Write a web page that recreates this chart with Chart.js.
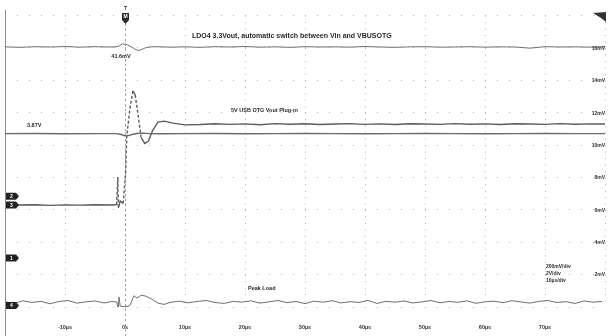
<!DOCTYPE html>
<html>
<head>
<meta charset="utf-8">
<script src="https://cdn.jsdelivr.net/npm/chart.js@4.4.1/dist/chart.umd.min.js"></script>
<style>
  html, body { margin: 0; padding: 0; background: #ffffff; }
  #wrap { width: 608px; height: 336px; }
</style>
</head>
<body>
<div id="wrap"><canvas id="scope" width="608" height="336"></canvas></div>
<script>
// Time axis labels (10 µs per division, trigger at 0 s)
const timeLabels = ['-10µs', '0s', '10µs', '20µs', '30µs', '40µs', '50µs', '60µs', '70µs'];

// Graticule labels along the right edge, bottom row first
const rightLabels = ['', '2mV', '4mV', '6mV', '8mV', '10mV', '12mV', '14mV', '16mV', ''];

// Readout block
const readout = ['200mV/div', '2V/div', '10µs/div'];

// CH1: LDO4 3.3V output, AC ripple [time µs, mV]
const ch1 = [
  [-20, 1], [-17.5, -2], [-15, 2], [-12.5, 0], [-10, 3], [-7.5, -1], [-5, 2], [-3, 0],
  [-1.5, 1], [-1, 6], [-0.4, 20], [0.3, 15], [1, 2], [1.6, -12], [2.2, -21.6], [2.8, -15],
  [3.4, -5], [4, 0], [5, 2], [7.5, -1], [10, 1], [12.5, -2], [15, 2], [17.5, 0], [20, 3],
  [22.5, -1], [25, 1], [27.5, -2], [30, 2], [32.5, 0], [35, 1], [37.5, -1], [40, 3],
  [42.5, 0], [45, -2], [47.5, 1], [50, 2], [52.5, -1], [55, 0], [57.5, 2], [60, -1],
  [62.5, 1], [65, 0], [67.5, -7], [70, 2], [72.5, 0], [75, 1], [77.5, -1], [80, 2]
];

// CH2: Vin (battery) [time µs, V]
const ch2 = [
  [-20, 3.87], [-15, 3.88], [-10, 3.86], [-5, 3.87], [-1.5, 3.87], [-0.8, 3.83], [0, 3.74],
  [0.6, 3.75], [1.3, 3.83], [2, 3.88], [3, 3.9], [4, 3.87], [6, 3.86], [10, 3.87], [15, 3.88],
  [20, 3.86], [25, 3.87], [30, 3.88], [35, 3.87], [40, 3.86], [45, 3.87], [50, 3.88],
  [55, 3.87], [60, 3.86], [65, 3.87], [70, 3.88], [75, 3.87], [80, 3.87]
];

// CH3: 5V USB OTG VBUS plug-in [time µs, V]
const ch3 = [
  [-17.8, 0], [-15, 0.02], [-12.5, -0.02], [-10, 0.01], [-7.5, -0.01], [-5, 0.02], [-2.5, 0],
  [-1.4, 0.02], [-1.2, 1.73], [-1.1, -0.18], [-0.8, 0.25], [-0.3, 0.1], [0.1, 2.0], [0.3, 4.3],
  [0.8, 5.9], [1.3, 7.05], [1.7, 6.8], [2.2, 5.5], [2.7, 4.15], [3.3, 3.8], [3.9, 3.95],
  [4.6, 4.6], [5.5, 5.12], [6.5, 5.18], [8, 5.06], [10, 4.95], [12.5, 4.97], [15, 5.02],
  [17.5, 4.98], [20, 5.01], [22.5, 4.96], [25, 5.03], [27.5, 4.99], [30, 5.02], [32.5, 4.97],
  [35, 5.0], [37.5, 5.03], [40, 4.98], [42.5, 5.01], [45, 4.97], [47.5, 5.02], [50, 5.0],
  [52.5, 4.98], [55, 5.03], [57.5, 4.99], [60, 5.01], [62.5, 4.97], [65, 5.02], [67.5, 5.0],
  [70, 4.98], [72.5, 5.03], [75, 4.99], [77.5, 5.01], [80, 5.0]
];

// CH4: load step [time µs, mV]
const ch4 = [
  [-20, 22], [-18.5, 12], [-17, 28], [-15.5, 18], [-14, 25], [-12.5, 10], [-11, 24], [-9.5, 30],
  [-8, 14], [-6.5, 22], [-5, 27], [-3.5, 15], [-2.2, 24], [-1.3, 20], [-1.15, -60], [-1.0, 52],
  [-0.8, -4], [0, -9], [0.8, -2], [1.3, 42], [1.5, 60], [2, 45], [2.7, 63], [3.5, 57],
  [4.5, 38], [5.5, 14], [6.5, 6], [7.5, 18], [9, 26], [10.5, 16], [12, 24], [13.5, 30],
  [15, 18], [16.5, 12], [18, 25], [19.5, 20], [21, 28], [22.5, 14], [24, 22], [25.5, 30],
  [27, 17], [28.5, 24], [30, 11], [31.5, 26], [33, 20], [34.5, 29], [36, 15], [37.5, 23],
  [39, 18], [40.5, 31], [42, 12], [43.5, 25], [45, 20], [46.5, 27], [48, 15], [49.5, 22],
  [51, 30], [52.5, 16], [54, 24], [55.5, 19], [57, 28], [58.5, 13], [60, 22], [61.5, 26],
  [63, 17], [64.5, 29], [66, 21], [67.5, 14], [69, 25], [70.5, 30], [72, 18], [73.5, 23],
  [75, 12], [76.5, 27], [78, 20], [79.5, 24]
];

// Per-channel volts/div and ground position (in divisions from the bottom graticule line)
const channels = [
  { data: ch1, perDiv: 200, ground: 8.03, color: '#6e6e6e', width: 1.0, tag: null },
  { data: ch2, perDiv: 2,   ground: 3.42, color: '#6a6a6a', width: 1.4, tag: '2' },
  { data: ch3, perDiv: 2,   ground: 3.15, color: '#5c5c5c', width: 1.4, tag: '3', steepDash: true },
  { data: ch4, perDiv: 200, ground: 0.05, color: '#707070', width: 1.0, tag: '4' }
];
const extraTag = { label: '1', div: 1.51 };

const datasets = channels.map(ch => {
  const ds = {
    data: ch.data.map(([t, v]) => ({ x: t, y: ch.ground + v / ch.perDiv })),
    borderColor: ch.color,
    borderWidth: ch.width,
    pointRadius: 0,
    pointHoverRadius: 0,
    tension: 0,
    fill: false
  };
  if (ch.steepDash) {
    // fast edges show up as sparse sample dashes on the scope
    ds.segment = { borderDash: c => Math.abs(c.p1.y - c.p0.y) > 14 ? [3, 2] : undefined };
  }
  return ds;
});

const overlay = {
  id: 'overlay',
  beforeDatasetsDraw(chart) {
    const { ctx, chartArea: a, scales: { x } } = chart;
    ctx.save();
    // trigger position cursor
    const xt = Math.round(x.getPixelForValue(0)) + 0.5;
    ctx.strokeStyle = '#9a9a9a';
    ctx.lineWidth = 1;
    ctx.setLineDash([2, 3]);
    ctx.beginPath(); ctx.moveTo(xt, 24); ctx.lineTo(xt, 336); ctx.stroke();
    ctx.setLineDash([]);
    // left frame edge
    ctx.strokeStyle = '#8c8c8c';
    ctx.beginPath(); ctx.moveTo(Math.round(a.left) + 0.5, 10); ctx.lineTo(Math.round(a.left) + 0.5, 336); ctx.stroke();
    ctx.restore();
  },
  afterDatasetsDraw(chart) {
    const { ctx, chartArea: a, scales: { x, y } } = chart;
    ctx.save();
    const font = (s, b) => (b ? 'bold ' : '') + s + 'px "Liberation Sans", Arial, sans-serif';

    // trigger marker at top
    const xt = x.getPixelForValue(0);
    ctx.fillStyle = '#2a2a2a';
    ctx.fillRect(xt - 3, 13, 7, 7);
    ctx.beginPath(); ctx.moveTo(xt - 3, 20); ctx.lineTo(xt + 4, 20); ctx.lineTo(xt + 0.5, 24); ctx.closePath(); ctx.fill();
    ctx.font = font(5, true); ctx.textAlign = 'center'; ctx.textBaseline = 'middle';
    ctx.fillText('T', xt + 0.5, 9);
    ctx.fillStyle = '#ffffff'; ctx.fillText('M', xt + 0.5, 16.5);

    // trigger level marker, top right
    ctx.fillStyle = '#333333';
    ctx.beginPath(); ctx.moveTo(593, 13); ctx.lineTo(606, 12); ctx.lineTo(606, 22); ctx.lineTo(601, 18); ctx.closePath(); ctx.fill();

    // channel ground tags on the left
    const tags = channels.filter(c => c.tag).map(c => ({ label: c.tag, div: c.ground }));
    tags.push(extraTag);
    tags.forEach(t => {
      const py = y.getPixelForValue(t.div);
      ctx.fillStyle = '#222222';
      ctx.beginPath();
      ctx.moveTo(6, py - 3.5); ctx.lineTo(16, py - 3.5); ctx.lineTo(19, py); ctx.lineTo(16, py + 3.5); ctx.lineTo(6, py + 3.5);
      ctx.closePath(); ctx.fill();
      ctx.fillStyle = '#ffffff'; ctx.font = font(5, true); ctx.textAlign = 'center'; ctx.textBaseline = 'middle';
      ctx.fillText(t.label, 11.5, py + 0.5);
    });

    // graticule values on the right
    ctx.fillStyle = '#2e2e2e'; ctx.font = font(5, true); ctx.textAlign = 'right'; ctx.textBaseline = 'middle';
    rightLabels.forEach((s, i) => { if (s) ctx.fillText(s, a.right, y.getPixelForValue(i) + 0.5); });

    // annotations
    ctx.fillStyle = '#2a2a2a'; ctx.textAlign = 'left'; ctx.textBaseline = 'middle';
    ctx.font = font(7, true);
    ctx.fillText('LDO4 3.3Vout, automatic switch between Vin and VBUSOTG', 192, 36);
    ctx.font = font(5.5, true);
    ctx.textAlign = 'center';
    const p1 = Math.max(...ch1.map(p => p[1])) - Math.min(...ch1.map(p => p[1]));
    ctx.fillText(p1.toFixed(1) + 'mV', 121, 56);
    ctx.textAlign = 'left';
    ctx.fillText(ch2[0][1].toFixed(2) + 'V', 27, 125.5);
    ctx.fillText('5V USB OTG Vout Plug-in', 231, 110);
    ctx.fillText('Peak Load', 248, 288);
    ctx.font = font(5, true);
    readout.forEach((s, i) => ctx.fillText(s, 546, 267 + i * 7));
    ctx.restore();
  }
};

new Chart(document.getElementById('scope'), {
  type: 'line',
  data: { datasets },
  options: {
    responsive: false,
    animation: false,
    events: [],
    layout: { autoPadding: false, padding: { left: 5, right: 3, top: 15.6, bottom: 0 } },
    plugins: { legend: { display: false }, tooltip: { enabled: false } },
    scales: {
      x: {
        type: 'linear', min: -20, max: 80,
        afterFit: s => { s.height = 29; s.paddingLeft = 0; s.paddingRight = 0; },
        ticks: {
          stepSize: 10, autoSkip: false, maxRotation: 0, padding: 17,
          color: '#333333', font: { size: 5.5, weight: 'bold', family: '"Liberation Sans", Arial, sans-serif' },
          callback: v => timeLabels[Math.round((v + 10) / 10)] || ''
        },
        grid: { color: '#b0b0b0', lineWidth: 1, drawTicks: false, borderDash: [1, 5.48] },
        border: { display: false, dash: [1, 5.48] }
      },
      y: {
        min: 0, max: 9,
        afterFit: s => { s.width = 0; s.paddingTop = 0; s.paddingBottom = 0; },
        ticks: { display: false, stepSize: 1 },
        grid: { color: '#b0b0b0', lineWidth: 1, drawTicks: false, borderDash: [1, 11] },
        border: { display: false, dash: [1, 11] }
      }
    }
  },
  plugins: [overlay]
});
</script>
</body>
</html>
